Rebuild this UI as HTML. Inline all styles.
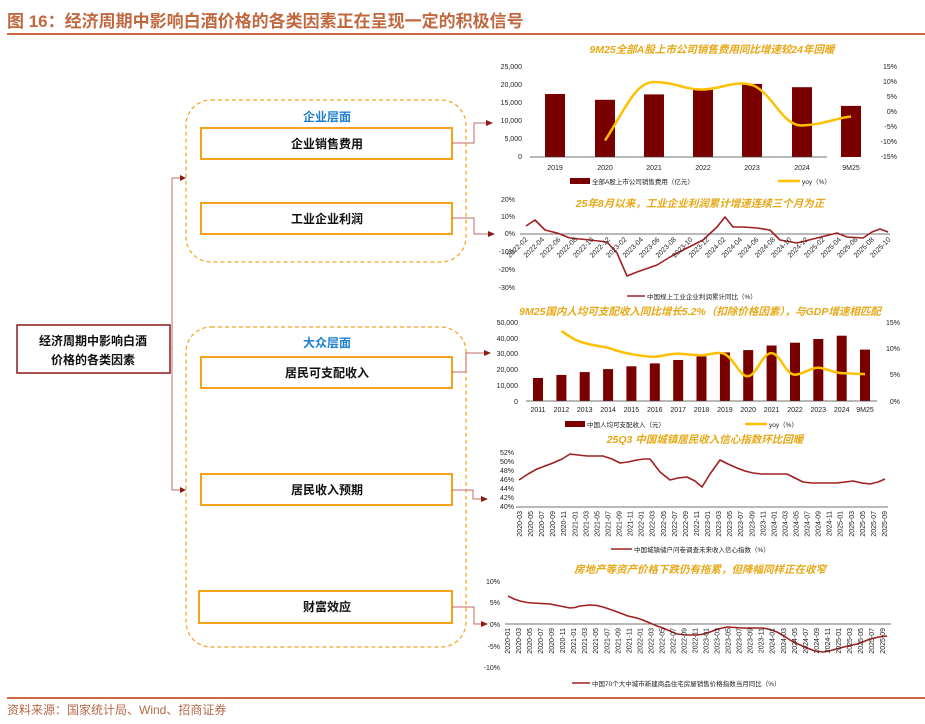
<!DOCTYPE html>
<html><head><meta charset="utf-8"><style>
html,body{margin:0;padding:0;background:#fff;}
svg{display:block;font-family:"Liberation Sans","Noto Sans CJK SC",sans-serif;}
.t{font-size:7px;fill:#222;}
.ct{font-size:10.5px;fill:#e6a817;font-weight:bold;font-style:italic;}
.lg{font-size:6.5px;fill:#222;}
.bx{fill:#fff;stroke:#f7a21b;stroke-width:2;}
.bt{font-size:12px;fill:#111;text-anchor:middle;font-weight:bold;}
.cn{fill:none;stroke:#c46a6a;stroke-width:1;}
.ar{fill:#8b1a1a;}
</style></head><body>
<svg width="925" height="724" viewBox="0 0 925 724">
<text x="7" y="27" font-size="17" font-weight="bold" fill="#c0683f">图 16：经济周期中影响白酒价格的各类因素正在呈现一定的积极信号</text>
<rect x="7" y="33" width="918" height="2" fill="#c96a45"/>

<!-- left diagram -->
<rect x="17" y="325" width="153" height="48" fill="#fff" stroke="#8b1a1a" stroke-width="1.5"/>
<text x="93" y="345" font-size="12" font-weight="bold" text-anchor="middle" fill="#111">经济周期中影响白酒</text>
<text x="93" y="364" font-size="12" font-weight="bold" text-anchor="middle" fill="#111">价格的各类因素</text>
<polyline class="cn" points="170,349 172,349"/>
<polyline class="cn" points="181,178 172,178 172,490 181,490"/>
<polygon class="ar" points="186,178 180,175 180,181"/>
<polygon class="ar" points="186,490 180,487 180,493"/>

<rect x="186" y="100" width="280" height="162" rx="25" fill="none" stroke="#f7a21b" stroke-width="1.2" stroke-dasharray="4,3"/>
<text x="327" y="121" font-size="12" font-weight="bold" fill="#1e7fd0" text-anchor="middle">企业层面</text>
<rect class="bx" x="201" y="128" width="251" height="31"/>
<text class="bt" x="327" y="148">企业销售费用</text>
<rect class="bx" x="201" y="203" width="251" height="31"/>
<text class="bt" x="327" y="223">工业企业利润</text>

<rect x="186" y="327" width="280" height="320" rx="25" fill="none" stroke="#f7a21b" stroke-width="1.2" stroke-dasharray="4,3"/>
<text x="327" y="347" font-size="12" font-weight="bold" fill="#1e7fd0" text-anchor="middle">大众层面</text>
<rect class="bx" x="201" y="357" width="251" height="31"/>
<text class="bt" x="327" y="377">居民可支配收入</text>
<rect class="bx" x="201" y="474" width="251" height="31"/>
<text class="bt" x="327" y="494">居民收入预期</text>
<rect class="bx" x="199" y="591" width="253" height="32"/>
<text class="bt" x="327" y="611">财富效应</text>

<polyline class="cn" points="452,143 474,143 474,123 487,123"/><polygon class="ar" points="493,123 486,120 486,126"/>
<polyline class="cn" points="452,218 474,218 474,234 489,234"/><polygon class="ar" points="495,234 488,231 488,237"/>
<polyline class="cn" points="452,372 466,372 466,353 485,353"/><polygon class="ar" points="491,353 484,350 484,356"/>
<polyline class="cn" points="452,490 473,490 473,499 482,499"/><polygon class="ar" points="488,499 481,496 481,502"/>
<polyline class="cn" points="452,607 474,607 474,624 482,624"/><polygon class="ar" points="488,624 481,621 481,627"/>

<!-- Chart 1 -->
<text class="ct" x="712" y="53" text-anchor="middle">9M25全部A股上市公司销售费用同比增速较24年回暖</text>
<g class="t" text-anchor="end">
<text x="522" y="69">25,000</text><text x="522" y="87">20,000</text><text x="522" y="105">15,000</text><text x="522" y="123">10,000</text><text x="522" y="141">5,000</text><text x="522" y="159">0</text>
</g>
<g class="t" text-anchor="end">
<text x="897" y="69">15%</text><text x="897" y="84">10%</text><text x="897" y="99">5%</text><text x="897" y="114">0%</text><text x="897" y="129">-5%</text><text x="897" y="144">-10%</text><text x="897" y="159">-15%</text>
</g>
<g fill="#7a0000">
<rect x="545" y="94" width="20" height="63"/><rect x="595" y="99.8" width="20" height="57.2"/><rect x="644" y="94.4" width="20" height="62.6"/><rect x="693" y="89.7" width="20" height="67.3"/><rect x="742" y="83.9" width="20" height="73.1"/><rect x="792" y="87.2" width="20" height="69.8"/><rect x="841" y="105.9" width="20" height="51.1"/>
</g>
<line x1="530" y1="157" x2="827" y2="157" stroke="#444" stroke-width="0.8"/>
<path d="M605,140.5 C625,110 635,82 654,82 C675,82 685,90 703,89.5 C722,89 735,80 752,85 C772,92 782,126 802,125.5 C822,125 836,118 851,116.5" fill="none" stroke="#ffc000" stroke-width="2.5"/>
<g class="t" text-anchor="middle">
<text x="555" y="170">2019</text><text x="605" y="170">2020</text><text x="654" y="170">2021</text><text x="703" y="170">2022</text><text x="752" y="170">2023</text><text x="802" y="170">2024</text><text x="851" y="170">9M25</text>
</g>
<rect x="570" y="178" width="20" height="6" fill="#7a0000"/>
<text class="lg" x="592" y="184">全部A股上市公司销售费用（亿元）</text>
<line x1="778" y1="181" x2="800" y2="181" stroke="#ffc000" stroke-width="2.5"/>
<text class="lg" x="802" y="184">yoy（%）</text>

<!-- Chart 2 -->
<text class="ct" x="700" y="207" text-anchor="middle">25年8月以来，工业企业利润累计增速连续三个月为正</text>
<g class="t" text-anchor="end">
<text x="515" y="202">20%</text><text x="515" y="219">10%</text><text x="515" y="236">0%</text><text x="515" y="254">-10%</text><text x="515" y="272">-20%</text><text x="515" y="290">-30%</text>
</g>
<line x1="520" y1="234" x2="890" y2="234" stroke="#444" stroke-width="0.8"/>
<polyline fill="none" stroke="#a02020" stroke-width="1.6" stroke-linejoin="round" points="526,226 535,220 545,230 557,233 570,238 590,240 607,242 617,253 627,276 637,272 657,265 670,257 687,248 703,240 717,227 725,217 733,227 743,227 757,228 770,230 780,240 797,243 817,238 837,233 847,237 863,238 872,232 880,229 888,232"/>
<g class="t" text-anchor="end" font-size="6.5">
<text transform="translate(528,240) rotate(-45)">2022-02</text>
<text transform="translate(544.5,240) rotate(-45)">2022-04</text>
<text transform="translate(561,240) rotate(-45)">2022-06</text>
<text transform="translate(577.5,240) rotate(-45)">2022-08</text>
<text transform="translate(594,240) rotate(-45)">2022-10</text>
<text transform="translate(610.5,240) rotate(-45)">2022-12</text>
<text transform="translate(627,240) rotate(-45)">2023-02</text>
<text transform="translate(643.5,240) rotate(-45)">2023-04</text>
<text transform="translate(660,240) rotate(-45)">2023-06</text>
<text transform="translate(676.5,240) rotate(-45)">2023-08</text>
<text transform="translate(693,240) rotate(-45)">2023-10</text>
<text transform="translate(709.5,240) rotate(-45)">2023-12</text>
<text transform="translate(726,240) rotate(-45)">2024-02</text>
<text transform="translate(742.5,240) rotate(-45)">2024-04</text>
<text transform="translate(759,240) rotate(-45)">2024-06</text>
<text transform="translate(775.5,240) rotate(-45)">2024-08</text>
<text transform="translate(792,240) rotate(-45)">2024-10</text>
<text transform="translate(808.5,240) rotate(-45)">2024-12</text>
<text transform="translate(825,240) rotate(-45)">2025-02</text>
<text transform="translate(841.5,240) rotate(-45)">2025-04</text>
<text transform="translate(858,240) rotate(-45)">2025-06</text>
<text transform="translate(874.5,240) rotate(-45)">2025-08</text>
<text transform="translate(891,240) rotate(-45)">2025-10</text>
</g>
<line x1="627" y1="296" x2="645" y2="296" stroke="#a02020" stroke-width="1.6"/>
<text class="lg" x="647" y="299">中国规上工业企业利润累计同比（%）</text>

<!-- Chart 3 -->
<text class="ct" x="700" y="315" text-anchor="middle">9M25国内人均可支配收入同比增长5.2%（扣除价格因素），与GDP增速相匹配</text>
<g class="t" text-anchor="end">
<text x="518" y="325">50,000</text><text x="518" y="341">40,000</text><text x="518" y="356">30,000</text><text x="518" y="372">20,000</text><text x="518" y="388">10,000</text><text x="518" y="404">0</text>
</g>
<g class="t" text-anchor="end">
<text x="900" y="325">15%</text><text x="900" y="351">10%</text><text x="900" y="377">5%</text><text x="900" y="404">0%</text>
</g>
<g fill="#7a0000">
<rect x="533" y="378" width="10" height="23"/><rect x="556.4" y="374.9" width="10" height="26.1"/><rect x="579.7" y="372.1" width="10" height="28.9"/><rect x="603.1" y="369.1" width="10" height="31.9"/><rect x="626.4" y="366.3" width="10" height="34.7"/><rect x="649.8" y="363.4" width="10" height="37.6"/><rect x="673.2" y="360" width="10" height="41"/><rect x="696.5" y="356.4" width="10" height="44.6"/><rect x="719.9" y="352.4" width="10" height="48.6"/><rect x="743.2" y="350.1" width="10" height="50.9"/><rect x="766.6" y="345.5" width="10" height="55.5"/><rect x="790" y="342.7" width="10" height="58.3"/><rect x="813.3" y="339" width="10" height="62"/><rect x="836.7" y="335.7" width="10" height="65.3"/><rect x="860" y="349.6" width="10" height="51.4"/>
</g>
<line x1="526" y1="401" x2="877" y2="401" stroke="#444" stroke-width="0.8"/>
<path d="M561.4,331 C572,338 576,341 584.7,343 C595,346 600,346 608.1,347.8 C618,351 623,353 631.4,354.1 C640,355.5 646,357 654.8,356.8 C664,356 670,353.6 678.2,353.6 C688,354 694,355.5 701.5,355.2 C710,355 718,351 724.9,354.1 C735,360 740,377 748.2,376.2 C757,375 762,353 771.6,353.1 C781,354 785,374.7 795,374.7 C805,374 810,367.5 818.3,367.8 C828,368.5 833,373 841.7,373.1 C850,373.5 858,374 865,374.1" fill="none" stroke="#ffc000" stroke-width="2.5"/>
<g class="t" text-anchor="middle" font-size="6.5">
<text x="538" y="412">2011</text><text x="561.4" y="412">2012</text><text x="584.7" y="412">2013</text><text x="608.1" y="412">2014</text><text x="631.4" y="412">2015</text><text x="654.8" y="412">2016</text><text x="678.2" y="412">2017</text><text x="701.5" y="412">2018</text><text x="724.9" y="412">2019</text><text x="748.2" y="412">2020</text><text x="771.6" y="412">2021</text><text x="795" y="412">2022</text><text x="818.3" y="412">2023</text><text x="841.7" y="412">2024</text><text x="865" y="412">9M25</text>
</g>
<rect x="565" y="421" width="20" height="6" fill="#7a0000"/>
<text class="lg" x="587" y="427">中国人均可支配收入（元）</text>
<line x1="745" y1="424" x2="767" y2="424" stroke="#ffc000" stroke-width="2.5"/>
<text class="lg" x="769" y="427">yoy（%）</text>

<!-- Chart 4 -->
<text class="ct" x="705" y="443" text-anchor="middle">25Q3 中国城镇居民收入信心指数环比回暖</text>
<g class="t" text-anchor="end">
<text x="514" y="455">52%</text><text x="514" y="464">50%</text><text x="514" y="473">48%</text><text x="514" y="482">46%</text><text x="514" y="491">44%</text><text x="514" y="500">42%</text><text x="514" y="509">40%</text>
</g>
<line x1="516" y1="507" x2="888" y2="507" stroke="#444" stroke-width="0.8"/>
<polyline fill="none" stroke="#a02020" stroke-width="1.6" stroke-linejoin="round" points="519,480 528,474 537,469 545,466 553,463 562,459 570,454 578,455 587,456 595,456 603,456 612,459 620,463 628,462 637,460 644,459 650,459 660,472 670,480 678,478 687,477 695,481 702,487 710,474 720,460 728,464 737,468 745,471 753,473 762,474 770,474 779,474 787,474 795,478 803,482 812,483 820,483 828,483 837,483 845,482 853,481 862,483 870,484 878,482 885,479"/>
<g class="t" text-anchor="end" font-size="6.2">
<text transform="translate(522,511) rotate(-90)">2020-03</text>
<text transform="translate(533.1,511) rotate(-90)">2020-05</text>
<text transform="translate(544.1,511) rotate(-90)">2020-07</text>
<text transform="translate(555.2,511) rotate(-90)">2020-09</text>
<text transform="translate(566.2,511) rotate(-90)">2020-11</text>
<text transform="translate(577.3,511) rotate(-90)">2021-01</text>
<text transform="translate(588.4,511) rotate(-90)">2021-03</text>
<text transform="translate(599.4,511) rotate(-90)">2021-05</text>
<text transform="translate(610.5,511) rotate(-90)">2021-07</text>
<text transform="translate(621.5,511) rotate(-90)">2021-09</text>
<text transform="translate(632.6,511) rotate(-90)">2021-11</text>
<text transform="translate(643.7,511) rotate(-90)">2022-01</text>
<text transform="translate(654.7,511) rotate(-90)">2022-03</text>
<text transform="translate(665.8,511) rotate(-90)">2022-05</text>
<text transform="translate(676.8,511) rotate(-90)">2022-07</text>
<text transform="translate(687.9,511) rotate(-90)">2022-09</text>
<text transform="translate(699,511) rotate(-90)">2022-11</text>
<text transform="translate(710,511) rotate(-90)">2023-01</text>
<text transform="translate(721.1,511) rotate(-90)">2023-03</text>
<text transform="translate(732.1,511) rotate(-90)">2023-05</text>
<text transform="translate(743.2,511) rotate(-90)">2023-07</text>
<text transform="translate(754.3,511) rotate(-90)">2023-09</text>
<text transform="translate(765.3,511) rotate(-90)">2023-11</text>
<text transform="translate(776.4,511) rotate(-90)">2024-01</text>
<text transform="translate(787.4,511) rotate(-90)">2024-03</text>
<text transform="translate(798.5,511) rotate(-90)">2024-05</text>
<text transform="translate(809.6,511) rotate(-90)">2024-07</text>
<text transform="translate(820.6,511) rotate(-90)">2024-09</text>
<text transform="translate(831.7,511) rotate(-90)">2024-11</text>
<text transform="translate(842.7,511) rotate(-90)">2025-01</text>
<text transform="translate(853.8,511) rotate(-90)">2025-03</text>
<text transform="translate(864.9,511) rotate(-90)">2025-05</text>
<text transform="translate(875.9,511) rotate(-90)">2025-07</text>
<text transform="translate(887,511) rotate(-90)">2025-09</text>
</g>
<line x1="611" y1="549" x2="632" y2="549" stroke="#a02020" stroke-width="1.6"/>
<text class="lg" x="634" y="552">中国城镇储户问卷调查未来收入信心指数（%）</text>

<!-- Chart 5 -->
<text class="ct" x="700" y="573" text-anchor="middle">房地产等资产价格下跌仍有拖累，但降幅同样正在收窄</text>
<g class="t" text-anchor="end">
<text x="500" y="584">10%</text><text x="500" y="605">5%</text><text x="500" y="627">0%</text><text x="500" y="649">-5%</text><text x="500" y="670">-10%</text>
</g>
<line x1="505" y1="624" x2="891" y2="624" stroke="#444" stroke-width="0.8"/>
<polyline fill="none" stroke="#a02020" stroke-width="1.6" stroke-linejoin="round" points="508,596 514,599 520,601 527,602.5 533,603 541,603.5 550,604 560,606 570,608 575,607.5 580,606 590,605 597,605.5 603,607 612,610 620,613 628,616 637,618 644,620.5 650,623 657,626 663,628 670,631 677,634 687,635 697,635 704,634 710,632 718,629 727,627 735,627.5 743,628 753,628 763,628 770,629.5 777,632 784,636 790,640 799,644.5 807,648 815,651 823,652 831,650.5 840,648 848,646 857,644 864,641.5 870,639 879,637 887,636"/>
<g class="t" text-anchor="end" font-size="6.2">
<text transform="translate(510,628) rotate(-90)">2020-01</text>
<text transform="translate(521,628) rotate(-90)">2020-03</text>
<text transform="translate(532.1,628) rotate(-90)">2020-05</text>
<text transform="translate(543.1,628) rotate(-90)">2020-07</text>
<text transform="translate(554.1,628) rotate(-90)">2020-09</text>
<text transform="translate(565.2,628) rotate(-90)">2020-11</text>
<text transform="translate(576.2,628) rotate(-90)">2021-01</text>
<text transform="translate(587.2,628) rotate(-90)">2021-03</text>
<text transform="translate(598.2,628) rotate(-90)">2021-05</text>
<text transform="translate(609.3,628) rotate(-90)">2021-07</text>
<text transform="translate(620.3,628) rotate(-90)">2021-09</text>
<text transform="translate(631.3,628) rotate(-90)">2021-11</text>
<text transform="translate(642.4,628) rotate(-90)">2022-01</text>
<text transform="translate(653.4,628) rotate(-90)">2022-03</text>
<text transform="translate(664.4,628) rotate(-90)">2022-05</text>
<text transform="translate(675.5,628) rotate(-90)">2022-07</text>
<text transform="translate(686.5,628) rotate(-90)">2022-09</text>
<text transform="translate(697.5,628) rotate(-90)">2022-11</text>
<text transform="translate(708.5,628) rotate(-90)">2023-01</text>
<text transform="translate(719.6,628) rotate(-90)">2023-03</text>
<text transform="translate(730.6,628) rotate(-90)">2023-05</text>
<text transform="translate(741.6,628) rotate(-90)">2023-07</text>
<text transform="translate(752.7,628) rotate(-90)">2023-09</text>
<text transform="translate(763.7,628) rotate(-90)">2023-11</text>
<text transform="translate(774.7,628) rotate(-90)">2024-01</text>
<text transform="translate(785.8,628) rotate(-90)">2024-03</text>
<text transform="translate(796.8,628) rotate(-90)">2024-05</text>
<text transform="translate(807.8,628) rotate(-90)">2024-07</text>
<text transform="translate(818.8,628) rotate(-90)">2024-09</text>
<text transform="translate(829.9,628) rotate(-90)">2024-11</text>
<text transform="translate(840.9,628) rotate(-90)">2025-01</text>
<text transform="translate(851.9,628) rotate(-90)">2025-03</text>
<text transform="translate(863,628) rotate(-90)">2025-05</text>
<text transform="translate(874,628) rotate(-90)">2025-07</text>
<text transform="translate(885,628) rotate(-90)">2025-09</text>
</g>
<line x1="572" y1="683" x2="590" y2="683" stroke="#a02020" stroke-width="1.6"/>
<text class="lg" x="592" y="686">中国70个大中城市新建商品住宅房屋销售价格指数当月同比（%）</text>

<rect x="7" y="697" width="918" height="2" fill="#c96a45"/>
<text x="7" y="714" font-size="12" fill="#b56a4a">资料来源：国家统计局、Wind、招商证券</text>
</svg>
</body></html>
